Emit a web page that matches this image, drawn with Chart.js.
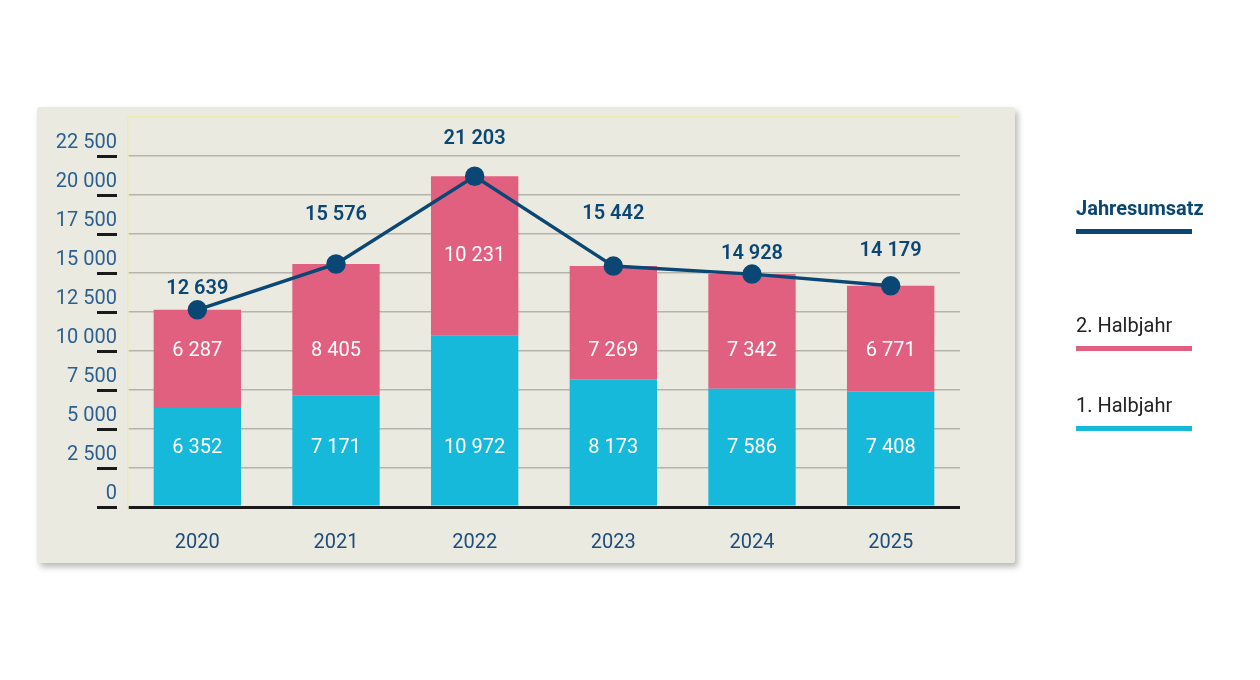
<!DOCTYPE html>
<html>
<head>
<meta charset="utf-8">
<script src="https://cdn.jsdelivr.net/npm/chart.js@4.4.1/dist/chart.umd.min.js"></script>
<style>
  html, body { margin: 0; padding: 0; background: #fff; }
  #wrap { position: relative; width: 1260px; height: 680px; overflow: hidden; }
  #panel {
    position: absolute; left: 37px; top: 107px; width: 978px; height: 456px;
    background: #ebeae0; border-radius: 3px;
    box-shadow: 3px 4px 6px rgba(0,0,0,0.28);
  }
  #c { position: absolute; left: 0; top: 0; }
  .leg { position: absolute; left: 1076px; font-family: Roboto, sans-serif; font-size: 20px; line-height: 24px; }
  .leg span { display: block; width: 116px; height: 5px; margin-top: 9px; }
</style>
</head>
<body>
<div id="wrap">
  <div id="panel"></div>
  <canvas id="c" width="1260" height="680"></canvas>
  <div class="leg" style="top:196px; color:#0b4774; font-weight:700;">Jahresumsatz<span style="background:#0b4774"></span></div>
  <div class="leg" style="top:313px; color:#222;">2. Halbjahr<span style="background:#e2607f"></span></div>
  <div class="leg" style="top:393px; color:#222;">1. Halbjahr<span style="background:#17b9da"></span></div>
</div>
<script>
const years = ['2020', '2021', '2022', '2023', '2024', '2025'];
const firstHalf = [6352, 7171, 10972, 8173, 7586, 7408];
const secondHalf = [6287, 8405, 10231, 7269, 7342, 6771];
const annual = [12639, 15576, 21203, 15442, 14928, 14179];

const CYAN = '#17b9da';
const PINK = '#e2607f';
const NAVY = '#0b4774';
const FONT = 'Roboto, sans-serif';

function fmt(v) {
  return String(v).replace(/\B(?=(\d{3})+(?!\d))/g, ' ');
}

// extra lift (px) of the total labels above their points
const lineLabelLift = [21, 49, 37, 52, 20, 35];

const labelPlugin = {
  id: 'labels',
  afterDatasetsDraw(chart) {
    const ctx = chart.ctx;
    const y = chart.scales.y;
    ctx.save();
    ctx.textAlign = 'center';
    ctx.textBaseline = 'middle';

    // segment labels
    ctx.font = '400 20px ' + FONT;
    ctx.fillStyle = '#ffffff';
    const m0 = chart.getDatasetMeta(0).data;
    const m1 = chart.getDatasetMeta(1).data;
    for (let i = 0; i < years.length; i++) {
      ctx.fillText(fmt(firstHalf[i]), m0[i].x, y.getPixelForValue(3800));
      const lo = firstHalf[i], hi = annual[i];
      const v = (lo < 10000 && hi > 10000) ? 10000 : (lo + hi) / 2;
      ctx.fillText(fmt(secondHalf[i]), m1[i].x, y.getPixelForValue(v));
    }

    // total labels
    ctx.font = '600 20px ' + FONT;
    ctx.fillStyle = NAVY;
    const m2 = chart.getDatasetMeta(2).data;
    for (let i = 0; i < years.length; i++) {
      ctx.fillText(fmt(annual[i]), m2[i].x, m2[i].y - lineLabelLift[i]);
    }
    ctx.restore();
  },
  afterDraw(chart) {
    // short underlines beside the y tick labels
    const ctx = chart.ctx;
    const y = chart.scales.y;
    ctx.save();
    ctx.strokeStyle = '#1a1a1a';
    ctx.lineWidth = 3;
    y.ticks.forEach(t => {
      if (t.value > 22500) return;
      const py = Math.round(y.getPixelForValue(t.value)) + 0.5;
      ctx.beginPath();
      ctx.moveTo(97, py);
      ctx.lineTo(117, py);
      ctx.stroke();
    });
    ctx.restore();
  }
};

new Chart(document.getElementById('c'), {
  data: {
    labels: years,
    datasets: [
      {
        type: 'bar',
        label: '1. Halbjahr',
        data: firstHalf,
        backgroundColor: CYAN,
        stack: 'halves',
        order: 2,
        barPercentage: 0.63,
        categoryPercentage: 1
      },
      {
        type: 'bar',
        label: '2. Halbjahr',
        data: secondHalf,
        backgroundColor: PINK,
        stack: 'halves',
        order: 2,
        barPercentage: 0.63,
        categoryPercentage: 1
      },
      {
        type: 'line',
        label: 'Jahresumsatz',
        data: annual,
        stack: 'total',
        order: 0,
        borderColor: NAVY,
        backgroundColor: NAVY,
        borderWidth: 3.5,
        pointRadius: 8,
        pointHoverRadius: 8,
        tension: 0
      }
    ]
  },
  options: {
    responsive: false,
    animation: false,
    events: [],
    layout: { padding: { left: 0, top: 117, right: 300, bottom: 0 } },
    plugins: {
      legend: { display: false },
      tooltip: { enabled: false }
    },
    scales: {
      x: {
        stacked: true,
        afterFit: s => { s.height = 173; },
        grid: { display: false },
        border: { display: false },
        ticks: {
          padding: 16,
          color: '#1d4d7a',
          font: { family: FONT, size: 20 }
        }
      },
      y: {
        stacked: true,
        min: 0,
        max: 25000,
        afterFit: s => { s.width = 128; },
        border: { display: true, color: '#ecebb4', width: 1.5 },
        grid: {
          drawTicks: false,
          color: c => c.tick.value === 0 ? '#1a1a1a' : (c.tick.value === 25000 ? '#ecebb4' : '#b5b4ac'),
          lineWidth: c => c.tick.value === 0 ? 3 : 1.5
        },
        ticks: {
          stepSize: 2500,
          padding: 11,
          labelOffset: -13,
          color: '#2a5f90',
          font: { family: FONT, size: 20 },
          callback: v => v === 25000 ? '' : fmt(v)
        }
      }
    }
  },
  plugins: [labelPlugin]
});
</script>
</body>
</html>
